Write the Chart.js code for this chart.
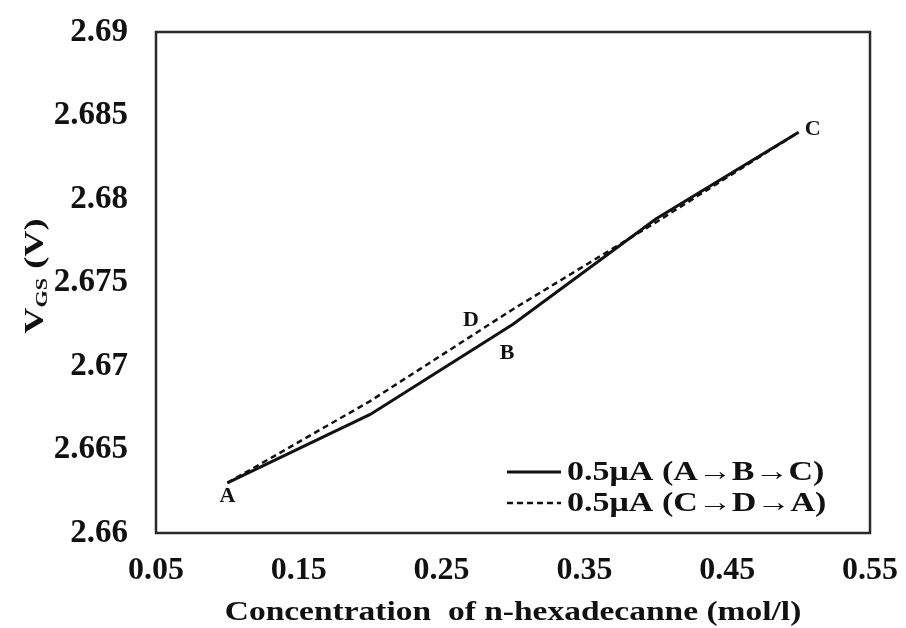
<!DOCTYPE html>
<html>
<head>
<meta charset="utf-8">
<script src="https://cdn.jsdelivr.net/npm/chart.js@4/dist/chart.umd.min.js"></script>
<style>
  html, body { margin: 0; padding: 0; background: #fff; }
  #wrap { width: 906px; height: 628px; }
</style>
</head>
<body>
<div id="wrap"><canvas id="vgsChart" width="906" height="628"></canvas></div>
<script>
// datos
const concentration = [0.1, 0.2, 0.3, 0.4, 0.5];
const vgsForward = [2.663, 2.6671, 2.6725, 2.6788, 2.684];   // A -> B -> C
const vgsBackward = [2.663, 2.6679, 2.6734, 2.6786, 2.684];  // C -> D -> A
const xTicks = [0.05, 0.15, 0.25, 0.35, 0.45, 0.55];
const xTickLabels = ['0.05', '0.15', '0.25', '0.35', '0.45', '0.55'];
const yTicks = [2.66, 2.665, 2.67, 2.675, 2.68, 2.685, 2.69];
const yTickLabels = ['2.66', '2.665', '2.67', '2.675', '2.68', '2.685', '2.69'];
const legendLabels = ['0.5\u03bcA (A\u2192B\u2192C)', '0.5\u03bcA (C\u2192D\u2192A)'];
const xTitle = 'Concentration  of n-hexadecanne (mol/l)';
// etiquetas de los puntos: [serie, índice, texto]
const pointLabels = [[0, 0, 'A'], [0, 2, 'B'], [0, 4, 'C'], [1, 2, 'D']];

const serif = '"Liberation Serif", "Times New Roman", serif';

function toPoints(xs, ys) {
    return xs.map((x, i) => ({ x: x, y: ys[i] }));
}

const labelOffsets = { A: [0, 13], B: [-6, 29], C: [14, -3], D: [-42, 11] };

// texto ensanchado horizontalmente (la figura original tiene letras anchas)
function wideText(ctx, txt, x, y, sx) {
    ctx.save();
    ctx.translate(x, y);
    ctx.scale(sx, 1);
    ctx.fillText(txt, 0, 0);
    ctx.restore();
}

const extras = {
    id: 'extras',
    afterDraw(chart) {
        const ctx = chart.ctx;
        const a = chart.chartArea;
        const xs = chart.scales.x, ys = chart.scales.y;
        ctx.save();

        // marco del área de trazado
        ctx.strokeStyle = '#2a2a2a';
        ctx.lineWidth = 2.5;
        ctx.strokeRect(a.left, a.top, a.right - a.left, a.bottom - a.top);

        // letras A, B, C, D
        ctx.fillStyle = '#111';
        ctx.font = 'bold 22px ' + serif;
        ctx.textAlign = 'center';
        ctx.textBaseline = 'middle';
        pointLabels.forEach(([ds, idx, txt]) => {
            const p = chart.data.datasets[ds].data[idx];
            const off = labelOffsets[txt];
            ctx.fillText(txt, xs.getPixelForValue(p.x) + off[0], ys.getPixelForValue(p.y) + off[1]);
        });

        // leyenda
        ctx.font = 'bold 27px ' + serif;
        ctx.textAlign = 'left';
        chart.data.datasets.forEach((d, i) => {
            const y = 472 + i * 31;
            ctx.beginPath();
            ctx.strokeStyle = '#111';
            ctx.lineWidth = d.borderWidth;
            ctx.setLineDash(d.borderDash || []);
            ctx.moveTo(507, y);
            ctx.lineTo(561, y);
            ctx.stroke();
            ctx.setLineDash([]);
            wideText(ctx, legendLabels[i], 567, y + 1, 1.26);
        });

        // título del eje X
        ctx.font = 'bold 27px ' + serif;
        ctx.textAlign = 'center';
        wideText(ctx, xTitle, (a.left + a.right) / 2, 613, 1.24);

        // título del eje Y con subíndice
        ctx.translate(24, 276);
        ctx.rotate(-Math.PI / 2);
        ctx.scale(1.3, 1);
        ctx.textAlign = 'left';
        ctx.textBaseline = 'alphabetic';
        ctx.font = 'bold 28px ' + serif;
        const w1 = ctx.measureText('V').width;
        ctx.font = 'bold 17px ' + serif;
        const w2 = ctx.measureText('GS').width;
        ctx.font = 'bold 28px ' + serif;
        const w3 = ctx.measureText(' (V)').width;
        const x0 = -(w1 + w2 + w3) / 2;
        ctx.fillText('V', x0, 19);
        ctx.font = 'bold 17px ' + serif;
        ctx.fillText('GS', x0 + w1, 23);
        ctx.font = 'bold 28px ' + serif;
        ctx.fillText(' (V)', x0 + w1 + w2, 19);

        ctx.restore();
    }
};

const ctx = document.getElementById('vgsChart').getContext('2d');
new Chart(ctx, {
    type: 'scatter',
    data: {
        datasets: [{
            label: legendLabels[0],
            data: toPoints(concentration, vgsForward),
            showLine: true,
            borderColor: '#111',
            borderWidth: 3,
            pointRadius: 0,
            tension: 0
        }, {
            label: legendLabels[1],
            data: toPoints(concentration, vgsBackward),
            showLine: true,
            borderColor: '#111',
            borderWidth: 2.5,
            borderDash: [6, 4],
            pointRadius: 0,
            tension: 0
        }]
    },
    options: {
        responsive: false,
        animation: false,
        layout: { padding: { left: 0, top: 32, right: 36, bottom: 0 } },
        plugins: {
            legend: { display: false },
            tooltip: { enabled: false }
        },
        scales: {
            x: {
                type: 'linear',
                min: 0.05,
                max: 0.55,
                afterBuildTicks: s => { s.ticks = xTicks.map(v => ({ value: v })); },
                afterFit: s => {
                    s.height = 95;
                    s.paddingLeft = 0;
                    s.paddingRight = 0;
                },
                grid: { display: false, drawTicks: false },
                border: { display: false },
                ticks: {
                    color: '#111',
                    padding: 19,
                    maxRotation: 0,
                    font: { family: serif, size: 32, weight: 'bold' },
                    callback: (v, i) => xTickLabels[i]
                }
            },
            y: {
                type: 'linear',
                min: 2.66,
                max: 2.69,
                afterBuildTicks: s => { s.ticks = yTicks.map(v => ({ value: v })); },
                afterFit: s => {
                    s.width = 156;
                    s.paddingTop = 0;
                    s.paddingBottom = 0;
                },
                grid: { display: false, drawTicks: false },
                border: { display: false },
                ticks: {
                    color: '#111',
                    padding: 28,
                    font: { family: serif, size: 33, weight: 'bold' },
                    callback: (v, i) => yTickLabels[i]
                }
            }
        }
    },
    plugins: [extras]
});
</script>
</body>
</html>
